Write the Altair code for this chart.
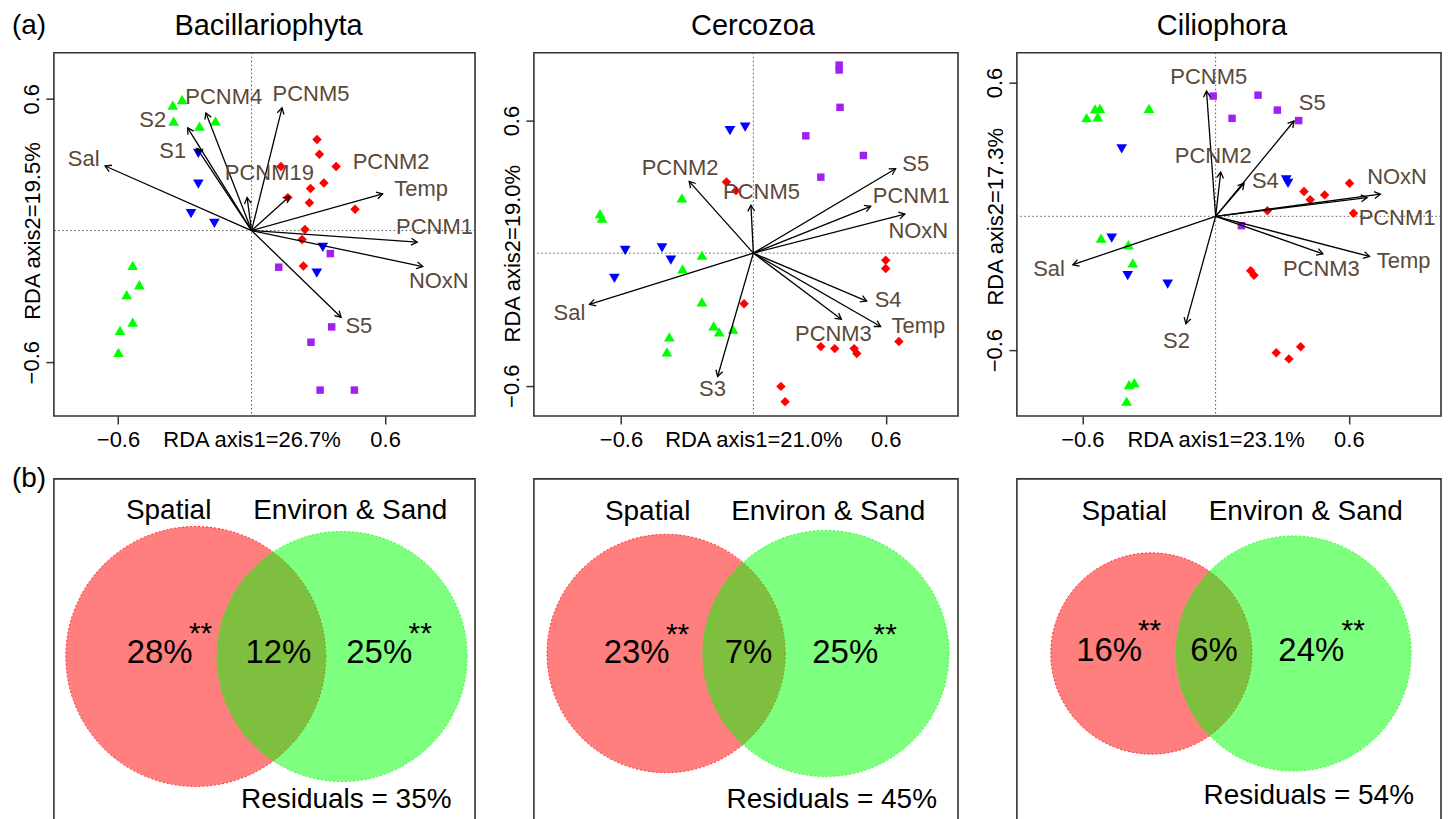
import math
import altair as alt
import pandas as pd

FONT = "Liberation Sans"
FRAME = "#3b3029"
LABEL_COLOR = "#5a4839"

# ---------------- RDA panel texts ----------------
titles = ["Bacillariophyta", "Cercozoa", "Ciliophora"]
axis1_titles = ["RDA axis1=26.7%", "RDA axis1=21.0%", "RDA axis1=23.1%"]
axis2_titles = ["RDA axis2=19.5%", "RDA axis2=19.0%", "RDA axis2=17.3%"]
tick_values = [-0.6, 0.6]

# ---------------- Bacillariophyta site scores ----------------
bac_green_x = [-0.354, -0.312, -0.350, -0.234, -0.162, -0.534, -0.504, -0.561, -0.534, -0.591, -0.598]
bac_green_y = [0.571, 0.597, 0.498, 0.476, 0.500, -0.159, -0.247, -0.292, -0.417, -0.455, -0.555]
bac_blue_x = [-0.239, -0.239, -0.272, -0.167, 0.320, 0.293]
bac_blue_y = [0.352, 0.211, 0.077, 0.033, -0.077, -0.194]
bac_red_x = [0.294, 0.305, 0.380, 0.132, 0.325, 0.265, 0.163, 0.260, 0.465, 0.240, 0.227, 0.233]
bac_red_y = [0.415, 0.348, 0.292, 0.292, 0.217, 0.192, 0.150, 0.127, 0.097, 0.005, -0.041, -0.162]
bac_purple_x = [0.354, 0.122, 0.360, 0.267, 0.308, 0.462]
bac_purple_y = [-0.105, -0.167, -0.439, -0.509, -0.727, -0.727]
# biplot arrows
bac_var = ["Sal", "S2", "S1", "PCNM4", "PCNM5", "PCNM19", "PCNM2", "Temp", "PCNM1", "NOxN", "S5"]
bac_arrow_x = [-0.658, -0.287, -0.245, -0.205, 0.137, -0.020, 0.170, 0.589, 0.744, 0.769, 0.402]
bac_arrow_y = [0.294, 0.468, 0.374, 0.536, 0.559, 0.150, 0.155, 0.167, -0.053, -0.164, -0.395]
bac_label_x = [-0.754, -0.444, -0.354, -0.125, 0.267, 0.080, 0.627, 0.762, 0.822, 0.841, 0.482]
bac_label_y = [0.324, 0.503, 0.362, 0.609, 0.621, 0.264, 0.314, 0.188, 0.014, -0.232, -0.436]

# ---------------- Cercozoa site scores ----------------
cer_green_x = [-0.324, -0.695, -0.686, -0.233, -0.321, -0.233, -0.180, -0.155, -0.092, -0.381, -0.392]
cer_green_y = [0.250, 0.179, 0.159, -0.009, -0.071, -0.220, -0.329, -0.356, -0.344, -0.379, -0.447]
cer_blue_x = [-0.106, -0.037, -0.581, -0.414, -0.374, -0.630]
cer_blue_y = [0.555, 0.570, 0.012, 0.024, -0.032, -0.114]
cer_red_x = [-0.122, -0.079, 0.600, 0.600, -0.042, 0.660, 0.306, 0.369, 0.457, 0.469, 0.125, 0.144]
cer_red_y = [0.322, 0.283, -0.032, -0.069, -0.229, -0.400, -0.423, -0.432, -0.432, -0.454, -0.603, -0.672]
cer_purple_x = [0.389, 0.389, 0.393, 0.238, 0.499, 0.306]
cer_purple_y = [0.851, 0.829, 0.660, 0.531, 0.442, 0.344]
cer_var = ["S5", "PCNM1", "NOxN", "PCNM2", "PCNM5", "Sal", "S3", "S4", "Temp", "PCNM3"]
cer_arrow_x = [0.645, 0.532, 0.687, -0.291, -0.011, -0.743, -0.162, 0.514, 0.577, 0.399]
cer_arrow_y = [0.382, 0.212, 0.177, 0.325, 0.217, -0.232, -0.558, -0.217, -0.332, -0.299]
cer_label_x = [0.736, 0.716, 0.748, -0.332, 0.037, -0.834, -0.185, 0.611, 0.748, 0.363]
cer_label_y = [0.405, 0.260, 0.099, 0.385, 0.275, -0.272, -0.615, -0.212, -0.329, -0.367]

# ---------------- Ciliophora site scores ----------------
cil_green_x = [-0.543, -0.521, -0.581, -0.531, -0.300, -0.516, -0.393, -0.373, -0.390, -0.366, -0.401]
cil_green_y = [0.481, 0.484, 0.442, 0.446, 0.484, -0.098, -0.127, -0.209, -0.754, -0.746, -0.828]
cil_blue_x = [-0.423, 0.318, 0.326, -0.468, -0.396, -0.216]
cil_blue_y = [0.302, 0.163, 0.148, -0.098, -0.266, -0.304]
cil_red_x = [0.603, 0.398, 0.426, 0.491, 0.233, 0.621, 0.158, 0.173, 0.273, 0.330, 0.383]
cil_red_y = [0.148, 0.111, 0.074, 0.096, 0.025, 0.014, -0.244, -0.264, -0.612, -0.639, -0.585]
cil_purple_x = [-0.011, 0.191, 0.278, 0.074, 0.374, 0.116]
cil_purple_y = [0.539, 0.543, 0.476, 0.439, 0.429, -0.042]
cil_var = ["PCNM5", "S5", "PCNM2", "S4", "NOxN", "PCNM1", "Temp", "PCNM3", "Sal", "S2"]
cil_arrow_x = [-0.041, 0.353, 0.023, 0.128, 0.742, 0.682, 0.693, 0.483, -0.643, -0.134]
cil_arrow_y = [0.561, 0.427, 0.198, 0.148, 0.099, 0.084, -0.180, -0.168, -0.217, -0.482]
cil_label_x = [-0.031, 0.435, -0.011, 0.224, 0.817, 0.817, 0.847, 0.476, -0.750, -0.176]
cil_label_y = [0.625, 0.506, 0.272, 0.159, 0.178, -0.008, -0.199, -0.235, -0.236, -0.560]

# ---------------- Variation partitioning (%) ----------------
spatial_only = [28, 23, 16]
shared = [12, 7, 6]
environ_only = [25, 25, 24]
residuals = [35, 45, 54]
venn_sets = ["Spatial", "Environ & Sand"]

# ---------------- layout / style ----------------
GROUPS = ["green", "blue", "red", "purple"]
SHAPES = ["triangle-up", "triangle-down", "diamond", "square"]
COLORS = ["#00FF00", "#0000FF", "#FF0000", "#A020F0"]
MSIZE = {"green": 115, "blue": 115, "red": 90, "purple": 56}
ARROW_HEAD = "M-0.5,0.866L0,0L0.5,0.866"

PANEL_W = [422, 425, 425]
rda_layout = [
    dict(xdom=[-0.888, 1.004], ydom=[-0.845, 0.81], title_dx=4),
    dict(xdom=[-0.995, 0.928], ydom=[-0.737, 0.907], title_dx=7),
    dict(xdom=[-0.895, 1.015], ydom=[-0.895, 0.733], title_dx=-7),
]
RDA_H = 364

venn_layout = dict(
    h=343, k=[20.6, 21.8, 21.5], cy=[178, 175, 175],
    cat_y=[40, 41, 41], spatial_x=[115, 114, 107.5], environ_x=[297, 295, 289.5],
    pct_y=[185, 185, 183], pct_x=[[106, 225, 326], [103, 215, 312], [92.5, 197.5, 295]],
    star_y=[164, 165, 161], star_x=[[147, 367], [144, 352], [133, 337]],
    res_x=[293, 298.5, 292.5], res_y=[330, 330, 326],
)

site_sets = [
    [(bac_green_x, bac_green_y), (bac_blue_x, bac_blue_y), (bac_red_x, bac_red_y), (bac_purple_x, bac_purple_y)],
    [(cer_green_x, cer_green_y), (cer_blue_x, cer_blue_y), (cer_red_x, cer_red_y), (cer_purple_x, cer_purple_y)],
    [(cil_green_x, cil_green_y), (cil_blue_x, cil_blue_y), (cil_red_x, cil_red_y), (cil_purple_x, cil_purple_y)],
]
arrow_sets = [
    (bac_var, bac_arrow_x, bac_arrow_y, bac_label_x, bac_label_y),
    (cer_var, cer_arrow_x, cer_arrow_y, cer_label_x, cer_label_y),
    (cil_var, cil_arrow_x, cil_arrow_y, cil_label_x, cil_label_y),
]


def rda_panel(i):
    lay = rda_layout[i]
    w, h = PANEL_W[i], RDA_H
    xdom, ydom = lay["xdom"], lay["ydom"]
    sx = w / (xdom[1] - xdom[0])
    sy = h / (ydom[1] - ydom[0])
    x0px = (0 - xdom[0]) * sx
    y0px = (ydom[1] - 0) * sy

    rows = []
    for grp, (xs, ys) in zip(GROUPS, site_sets[i]):
        for x, y in zip(xs, ys):
            rows.append({"x": x, "y": y, "grp": grp, "sz": MSIZE[grp]})
    sites = pd.DataFrame(rows)

    names, axs, ays, lxs, lys = arrow_sets[i]
    arrows = pd.DataFrame({
        "name": names, "ax": axs, "ay": ays, "lx": lxs, "ly": lys,
        "x0": [0.0] * len(names), "y0": [0.0] * len(names),
    })
    arrows["ang"] = [
        math.degrees(math.atan2(a * sx, b * sy)) % 360 for a, b in zip(axs, ays)
    ]

    xs_ = alt.Scale(domain=xdom, nice=False, zero=False)
    ys_ = alt.Scale(domain=ydom, nice=False, zero=False)
    xaxis = alt.Axis(
        values=tick_values, format=".1f", grid=False, domain=False,
        tickSize=8, tickWidth=1.5, tickColor=FRAME,
        labelFont=FONT, labelFontSize=22, labelColor="black",
        labelBaseline="alphabetic", labelPadding=23, labelFlush=False, labelOverlap=False,
        title=axis1_titles[i], titleFont=FONT, titleFontSize=22, titleFontWeight="normal",
        titleColor="black", titleBaseline="alphabetic", titleAlign="center",
        titleX=x0px, titleY=31,
    )
    yaxis = alt.Axis(
        values=tick_values, format=".1f", grid=False, domain=False,
        tickSize=8, tickWidth=1.5, tickColor=FRAME,
        labelFont=FONT, labelFontSize=22, labelColor="black",
        labelAngle=270, labelAlign="center", labelBaseline="alphabetic",
        labelPadding=7, labelFlush=False, labelOverlap=False,
        title=axis2_titles[i], titleFont=FONT, titleFontSize=22, titleFontWeight="normal",
        titleColor="black", titleAngle=270, titleBaseline="alphabetic", titleAlign="center",
        titleX=-14.5, titleY=y0px,
    )

    def X(f):
        return alt.X(f, type="quantitative", scale=xs_, axis=xaxis)

    def Y(f):
        return alt.Y(f, type="quantitative", scale=ys_, axis=yaxis)

    zero = pd.DataFrame({"v": [0.0]})
    vline = alt.Chart(zero).mark_rule(color="#555555", strokeWidth=1, strokeDash=[1.5, 2.5]).encode(x=X("v"))
    hline = alt.Chart(zero).mark_rule(color="#555555", strokeWidth=1, strokeDash=[1.5, 2.5]).encode(y=Y("v"))

    pts = alt.Chart(sites).mark_point(filled=True, opacity=1, strokeWidth=0).encode(
        x=X("x"), y=Y("y"),
        shape=alt.Shape("grp:N", scale=alt.Scale(domain=GROUPS, range=SHAPES), legend=None),
        color=alt.Color("grp:N", scale=alt.Scale(domain=GROUPS, range=COLORS), legend=None),
        size=alt.Size("sz:Q", scale=None),
    )
    shafts = alt.Chart(arrows).mark_rule(color="black", strokeWidth=1.3).encode(
        x=X("ax"), y=Y("ay"), x2="x0", y2="y0"
    )
    heads = alt.Chart(arrows).mark_point(
        shape=ARROW_HEAD, filled=False, color="black", stroke="black",
        strokeWidth=1.3, size=190, opacity=1,
    ).encode(x=X("ax"), y=Y("ay"), angle=alt.Angle("ang:Q", scale=None))
    labels = alt.Chart(arrows).mark_text(
        font=FONT, fontSize=22, color=LABEL_COLOR, align="center", baseline="middle"
    ).encode(x=X("lx"), y=Y("ly"), text="name:N")

    title = alt.Chart(pd.DataFrame({"t": [titles[i]]})).mark_text(
        font=FONT, fontSize=29, color="black", align="center", baseline="alphabetic"
    ).encode(x=alt.value(w / 2 + lay["title_dx"]), y=alt.value(-18), text="t:N")

    layers = [vline, hline, pts, shafts, heads, labels, title]
    if i == 0:
        tag = alt.Chart(pd.DataFrame({"t": ["(a)"]})).mark_text(
            font=FONT, fontSize=28, color="black", align="left", baseline="alphabetic"
        ).encode(x=alt.value(-42), y=alt.value(-18.5), text="t:N")
        layers.append(tag)
    return alt.layer(*layers).properties(width=w, height=h)


def lens_area(r1, r2, d):
    if d >= r1 + r2:
        return 0.0
    if d <= abs(r1 - r2):
        return math.pi * min(r1, r2) ** 2
    a1 = math.acos((d * d + r1 * r1 - r2 * r2) / (2 * d * r1))
    a2 = math.acos((d * d + r2 * r2 - r1 * r1) / (2 * d * r2))
    tri = 0.5 * math.sqrt((-d + r1 + r2) * (d + r1 - r2) * (d - r1 + r2) * (d + r1 + r2))
    return r1 * r1 * a1 + r2 * r2 * a2 - tri


def center_distance(r1, r2, target):
    lo, hi = abs(r1 - r2) + 1e-6, r1 + r2
    for _ in range(80):
        mid = (lo + hi) / 2
        if lens_area(r1, r2, mid) > target:
            lo = mid
        else:
            hi = mid
    return (lo + hi) / 2


def venn_panel(i):
    L = venn_layout
    w, h, k = PANEL_W[i], L["h"], L["k"][i]
    r1 = k * math.sqrt(spatial_only[i] + shared[i])
    r2 = k * math.sqrt(environ_only[i] + shared[i])
    d = center_distance(r1, r2, math.pi * k * k * shared[i])
    c1 = w / 2 + 2 - (d + r2 - r1) / 2
    c2 = c1 + d
    cy = L["cy"][i]
    circles = pd.DataFrame({
        "set": venn_sets, "cx": [c1, c2], "cy": [cy, cy],
        "sz": [(2 * r1) ** 2, (2 * r2) ** 2], "col": ["#FF0000", "#00FF00"],
    })
    xs_ = alt.Scale(domain=[0, w], nice=False, zero=False)
    ys_ = alt.Scale(domain=[h, 0], nice=False, zero=False)

    def X(f):
        return alt.X(f, type="quantitative", scale=xs_, axis=None)

    def Y(f):
        return alt.Y(f, type="quantitative", scale=ys_, axis=None)

    circ = alt.Chart(circles).mark_point(
        shape="circle", filled=True, fillOpacity=0.5, strokeOpacity=0.8,
        strokeWidth=1, strokeDash=[2, 2], opacity=1,
    ).encode(
        x=X("cx"), y=Y("cy"), size=alt.Size("sz:Q", scale=None),
        fill=alt.Fill("col:N", scale=None), stroke=alt.Stroke("col:N", scale=None),
    )
    px = L["pct_x"][i]
    sxs = L["star_x"][i]
    texts = pd.DataFrame({
        "x": [L["spatial_x"][i], L["environ_x"][i], px[0], px[1], px[2], sxs[0], sxs[1], L["res_x"][i]],
        "y": [L["cat_y"][i], L["cat_y"][i], L["pct_y"][i], L["pct_y"][i], L["pct_y"][i],
              L["star_y"][i], L["star_y"][i], L["res_y"][i]],
        "t": [venn_sets[0], venn_sets[1], f"{spatial_only[i]}%", f"{shared[i]}%",
              f"{environ_only[i]}%", "**", "**", f"Residuals = {residuals[i]}%"],
        "fs": [28, 28, 33, 33, 33, 30, 30, 28],
    })
    txt = alt.Chart(texts).mark_text(
        font=FONT, color="black", align="center", baseline="alphabetic"
    ).encode(x=X("x"), y=Y("y"), text="t:N", size=alt.Size("fs:Q", scale=None))
    layers = [circ, txt]
    if i == 0:
        tag = alt.Chart(pd.DataFrame({"t": ["(b)"]})).mark_text(
            font=FONT, fontSize=28, color="black", align="left", baseline="alphabetic"
        ).encode(x=alt.value(-42), y=alt.value(8), text="t:N")
        layers.append(tag)
    return alt.layer(*layers).properties(width=w, height=h)


panels = [rda_panel(i) for i in range(3)] + [venn_panel(i) for i in range(3)]

chart = alt.concat(
    *panels, columns=3, spacing={"row": 63, "column": 59}, bounds="flush", align="each"
).properties(
    padding={"left": 3, "top": 2, "right": 0, "bottom": 0}
).configure(
    font=FONT, background="white"
).configure_view(
    stroke=FRAME, strokeWidth=1.6
)

chart.save("out.html", embed_options={"renderer": "svg", "actions": False})
